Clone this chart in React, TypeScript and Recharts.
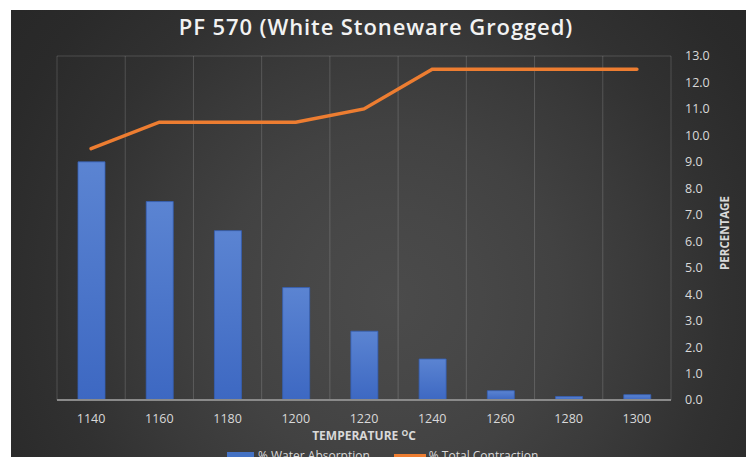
import React from "react";
import { ComposedChart, Bar, Line, XAxis, YAxis, CartesianGrid, Legend } from "recharts";

const temperatures = ["1140", "1160", "1180", "1200", "1220", "1240", "1260", "1280", "1300"];
const waterAbsorption = [9.0, 7.5, 6.4, 4.25, 2.6, 1.55, 0.35, 0.13, 0.2];
const totalContraction = [9.5, 10.5, 10.5, 10.5, 11.0, 12.5, 12.5, 12.5, 12.5];
const yTicks = [0, 1, 2, 3, 4, 5, 6, 7, 8, 9, 10, 11, 12, 13];

const data = temperatures.map((t, i) => ({
  temp: t,
  water: waterAbsorption[i],
  contraction: totalContraction[i],
}));

const FONT = "'Open Sans', 'Noto Sans', sans-serif";
const TEXT = "#d9d9d9";

const XLabel = (props: any) => {
  const vb = props.viewBox || {};
  const cx = vb.x + vb.width / 2;
  const y = vb.y + 40;
  return (
    <text x={cx} y={y} textAnchor="middle" fill={TEXT} fontFamily={FONT} fontSize={12} fontWeight={700}>
      TEMPERATURE <tspan dy={-4} fontSize={8.5}>O</tspan>
      <tspan dy={4}>C</tspan>
    </text>
  );
};

const YLabel = (props: any) => {
  const vb = props.viewBox || {};
  const x = vb.x + 53;
  const y = vb.y + vb.height / 2 + 5;
  return (
    <text
      x={x}
      y={y}
      textAnchor="middle"
      fill={TEXT}
      fontFamily={FONT}
      fontSize={11.5}
      fontWeight={700}
      transform={`rotate(-90 ${x} ${y})`}
      dominantBaseline="central"
    >
      PERCENTAGE
    </text>
  );
};

const LegendContent = () => (
  <div style={{ display: "flex", alignItems: "center", fontFamily: FONT, fontSize: 12, color: TEXT }}>
    <div style={{ width: 27, height: 8, background: "#4472C4", marginLeft: 227, marginRight: 4 }} />
    <span>% Water Absorption</span>
    <div style={{ width: 32, height: 4, background: "#ED7D31", marginLeft: 24, marginRight: 3 }} />
    <span>% Total Contraction</span>
  </div>
);

export default function App() {
  return (
    <div style={{ position: "absolute", left: 0, top: 0, width: 746, height: 457, background: "#ffffff", overflow: "hidden" }}>
      <div
        style={{
          position: "absolute",
          left: 11,
          top: 10,
          width: 735,
          height: 447,
          background:
            "radial-gradient(circle at 380px 290px, #4b4b4b 0px, #474747 90px, #424242 170px, #3a3a3a 250px, #313131 330px, #2a2a2a 420px, #262626 520px)",
        }}
      />
      <div
        style={{
          position: "absolute",
          left: 0,
          top: 11,
          width: 752,
          textAlign: "center",
          fontFamily: FONT,
          fontSize: 22,
          fontWeight: 600,
          color: "#f2f2f2",
          letterSpacing: 0.9,
        }}
      >
        PF 570 (White Stoneware Grogged)
      </div>
      <div style={{ position: "absolute", left: 0, top: 0 }}>
        <svg width={0} height={0} style={{ position: "absolute" }}>
          <defs>
            <linearGradient id="barGrad" x1="0" y1="0" x2="0" y2="1">
              <stop offset="0%" stopColor="#5b84d2" />
              <stop offset="100%" stopColor="#3d68c2" />
            </linearGradient>
          </defs>
        </svg>
        <ComposedChart
          width={746}
          height={457}
          data={data}
          margin={{ top: 56, right: 30, left: 57, bottom: 0 }}
          barCategoryGap={0}
        >
          <CartesianGrid
            stroke="rgba(255,255,255,0.16)"
            strokeWidth={1}
            verticalCoordinatesGenerator={({ offset }: any) =>
              temperatures.map((_, i) => offset.left + (i * offset.width) / temperatures.length).concat([offset.left + offset.width])
            }
          />
          <XAxis
            dataKey="temp"
            tick={{ fill: TEXT, fontSize: 12.5, fontFamily: FONT }}
            tickLine={false}
            axisLine={{ stroke: "#8a8a8a", strokeWidth: 2 }}
            height={40}
            tickMargin={8}
            label={<XLabel />}
          />
          <YAxis
            yAxisId="r"
            orientation="right"
            domain={[0, 13]}
            ticks={yTicks}
            interval={0}
            tickFormatter={(v: number) => v.toFixed(1)}
            tick={{ fill: TEXT, fontSize: 12.5, fontFamily: FONT }}
            axisLine={false}
            tickLine={false}
            width={45}
            tickMargin={8}
            label={<YLabel />}
          />
          <Bar
            yAxisId="r"
            dataKey="water"
            name="% Water Absorption"
            fill="url(#barGrad)"
            stroke="#3560b5"
            strokeWidth={0.8}
            barSize={27}
            isAnimationActive={false}
          />
          <Line
            yAxisId="r"
            dataKey="contraction"
            name="% Total Contraction"
            type="linear"
            stroke="#ED7D31"
            strokeWidth={3.5}
            dot={false}
            activeDot={false}
            strokeLinecap="round"
            isAnimationActive={false}
          />
          <Legend
            content={<LegendContent />}
            wrapperStyle={{ position: "absolute", top: 447, left: 0, width: 746 }}
          />
        </ComposedChart>
      </div>
    </div>
  );
}
